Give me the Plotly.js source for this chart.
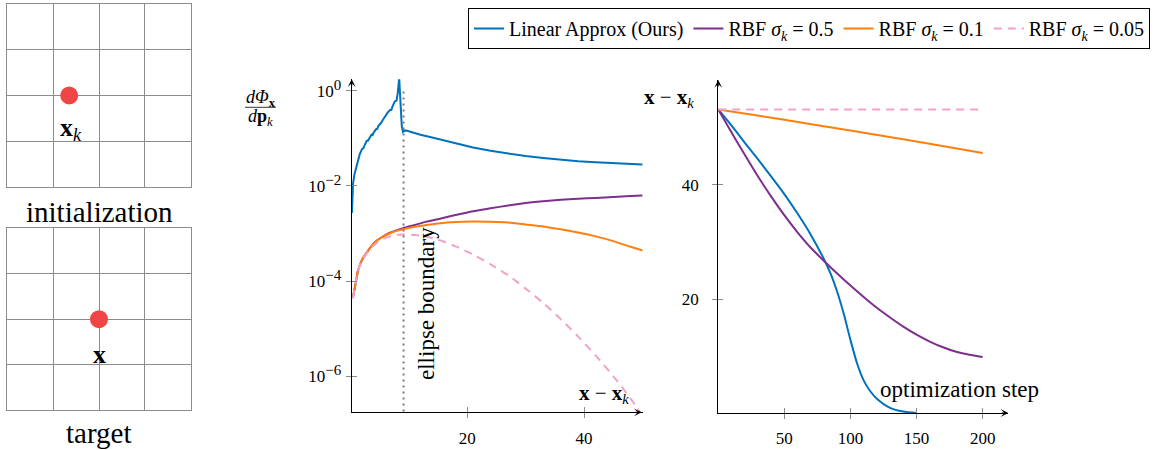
<!DOCTYPE html>
<html><head><meta charset="utf-8">
<script src="https://cdn.plot.ly/plotly-3.0.1.min.js"></script>
<style>html,body{margin:0;padding:0;background:#fff}#chart{width:1163px;height:450px}</style>
</head><body><div id="chart"></div>
<script>
// ---------- data ----------
// middle panel: gradient magnitude vs distance x - x_k (log y)
const distBlue = [0.25, 0.45, 0.7, 1.0, 1.3, 1.6, 2.0, 2.2, 2.4, 2.8, 3.0, 3.2, 3.6, 3.8, 4.0, 4.4, 4.6, 4.8, 5.2, 5.6, 6.0, 6.4, 6.8, 7.0, 7.2, 7.6, 7.9, 8.1, 8.35, 8.55, 8.8, 9.0, 9.3, 9.7, 10.5, 12, 14, 16, 18, 21, 24, 27, 30, 33, 36, 39, 42, 45, 48, 50];
const gradLinear = [2.69e-3, 1.12e-2, 1.78e-2, 2.51e-2, 3.55e-2, 4.68e-2, 6.03e-2, 6.17e-2, 7.08e-2, 8.91e-2, 8.91e-2, 0.100, 0.120, 0.118, 0.135, 0.158, 0.160, 0.186, 0.209, 0.251, 0.302, 0.355, 0.398, 0.398, 0.468, 0.603, 0.631, 0.891, 1.86, 0.631, 0.178, 0.138, 0.148, 0.145, 0.135, 0.120, 0.105, 9.12e-2, 7.94e-2, 6.46e-2, 5.50e-2, 4.79e-2, 4.27e-2, 3.89e-2, 3.55e-2, 3.31e-2, 3.16e-2, 3.02e-2, 2.88e-2, 2.82e-2];
const distRBF = [0.4, 0.9, 1.3, 2.0, 2.8, 3.5, 4.5, 5.5, 6.5, 7.5, 9, 11, 13, 15, 18, 21, 24, 27, 30, 33, 36, 39, 42, 45, 48, 50];
const gradRBF05 = [4.37e-5, 8.91e-5, 1.66e-4, 2.82e-4, 3.98e-4, 5.25e-4, 7.08e-4, 8.51e-4, 1.00e-3, 1.12e-3, 1.29e-3, 1.51e-3, 1.78e-3, 2.00e-3, 2.45e-3, 2.95e-3, 3.39e-3, 3.89e-3, 4.37e-3, 4.79e-3, 5.13e-3, 5.37e-3, 5.62e-3, 5.89e-3, 6.17e-3, 6.31e-3];
const gradRBF01 = [4.37e-5, 8.91e-5, 1.66e-4, 2.82e-4, 3.98e-4, 5.25e-4, 7.08e-4, 8.51e-4, 9.77e-4, 1.10e-3, 1.23e-3, 1.38e-3, 1.51e-3, 1.62e-3, 1.74e-3, 1.78e-3, 1.76e-3, 1.70e-3, 1.55e-3, 1.41e-3, 1.23e-3, 1.05e-3, 8.71e-4, 6.92e-4, 5.25e-4, 4.37e-4];
const distRBF005 = [0.4, 0.9, 1.3, 2.0, 2.8, 3.5, 4.5, 5.5, 6.5, 7.5, 9, 11, 13, 15, 18, 21, 24, 27, 30, 33, 36, 39, 42, 45, 48, 49.6];
const gradRBF005 = [4.37e-5, 8.91e-5, 1.66e-4, 2.75e-4, 3.80e-4, 4.90e-4, 6.31e-4, 7.59e-4, 8.51e-4, 9.12e-4, 9.55e-4, 9.33e-4, 8.51e-4, 7.41e-4, 5.37e-4, 3.63e-4, 2.24e-4, 1.32e-4, 6.92e-5, 3.47e-5, 1.58e-5, 6.76e-6, 2.69e-6, 1.00e-6, 3.31e-7, 1.74e-7];
const ellipseBoundary = 9.1;

// right panel: distance x - x_k vs optimization step
const stepsLinear = [0, 10, 20, 30, 40, 50, 60, 70, 80, 85, 90, 95, 100, 105, 110, 115, 120, 130, 140, 150];
const errLinear = [53.2, 50.4, 47.4, 44.5, 41.5, 38.4, 35.0, 31.3, 27.0, 24.5, 21.3, 17.4, 12.9, 8.8, 5.8, 3.9, 2.6, 1.0, 0.35, 0.1];
const stepsRBF05 = [0, 10, 20, 30, 40, 50, 60, 70, 80, 90, 100, 110, 120, 130, 140, 150, 160, 170, 180, 190, 200];
const errRBF05 = [53.2, 49.2, 45.3, 41.5, 38.0, 34.7, 31.7, 29.0, 26.7, 24.5, 22.4, 20.4, 18.5, 16.8, 15.2, 13.8, 12.6, 11.6, 10.8, 10.3, 9.9];
const stepsRBF01 = [0, 50, 100, 150, 200];
const errRBF01 = [53.2, 51.4, 49.5, 47.6, 45.6];
const stepsRBF005 = [0, 50, 100, 150, 200];
const errRBF005 = [53.2, 53.2, 53.2, 53.2, 53.2];

// left panel: point positions on 4x4 grids
const initX = [1.35], initY = [2];
const targetX = [2], targetY = [2];

// names and ticks
const seriesNames = ['Linear Approx (Ours)', 'RBF <i>σ</i><sub><i>k</i></sub> = 0.5', 'RBF <i>σ</i><sub><i>k</i></sub> = 0.1', 'RBF <i>σ</i><sub><i>k</i></sub> = 0.05'];
const logTickVals = [1e-6, 1e-4, 1e-2, 1];
const supSpan = s => '10<sup><span style="font-size:15px">' + s + '</span></sup>';
const logTickText = [supSpan('−6'), supSpan('−4'), supSpan('−2'), supSpan('0')];
const distTickVals = [20, 40];
const stepTickVals = [50, 100, 150, 200];
const errTickVals = [20, 40];

// ---------- styling ----------
const FONT = 'Liberation Serif';
const TICKGRAY = '#8c8c8c';
const colors = ['#0072bd', '#7e2f8e', '#ff7f0e', '#f2a2c8'];
const W = 1163, H = 450;
const px = v => v / W, py = v => 1 - v / H;

const dom = {
  midX: [px(351.7), px(643)], midY: [py(412.3), py(79.3)],
  rightX: [px(718.2), px(1008.3)], rightY: [py(413), py(80)],
  gridX: [px(7.3), px(190.7)], gridTopY: [py(186.7), py(4.3)], gridBotY: [py(410), py(228.3)]
};
const midXRange = [0.22, 50.1], midYRange = [-6.764, 0.246];
const rightXRange = [0, 219.4], rightYRange = [0.1, 58.35];

const traces = [
  {x: distBlue, y: gradLinear, xaxis: 'x', yaxis: 'y', name: seriesNames[0], mode: 'lines', line: {color: colors[0], width: 2}},
  {x: distRBF, y: gradRBF05, xaxis: 'x', yaxis: 'y', name: seriesNames[1], mode: 'lines', line: {color: colors[1], width: 2, shape: 'spline', smoothing: 0.6}},
  {x: distRBF, y: gradRBF01, xaxis: 'x', yaxis: 'y', name: seriesNames[2], mode: 'lines', line: {color: colors[2], width: 2, shape: 'spline', smoothing: 0.6}},
  {x: distRBF005, y: gradRBF005, xaxis: 'x', yaxis: 'y', name: seriesNames[3], mode: 'lines', line: {color: colors[3], width: 2, dash: '8px,6px', shape: 'spline', smoothing: 0.6}},
  {x: stepsLinear, y: errLinear, xaxis: 'x2', yaxis: 'y2', showlegend: false, mode: 'lines', line: {color: colors[0], width: 2, shape: 'spline', smoothing: 0.7}},
  {x: stepsRBF05, y: errRBF05, xaxis: 'x2', yaxis: 'y2', showlegend: false, mode: 'lines', line: {color: colors[1], width: 2, shape: 'spline', smoothing: 0.6}},
  {x: stepsRBF01, y: errRBF01, xaxis: 'x2', yaxis: 'y2', showlegend: false, mode: 'lines', line: {color: colors[2], width: 2, shape: 'spline', smoothing: 0.6}},
  {x: stepsRBF005, y: errRBF005, xaxis: 'x2', yaxis: 'y2', showlegend: false, mode: 'lines', line: {color: colors[3], width: 2, dash: '8px,6px'}},
  {x: initX, y: initY, xaxis: 'x3', yaxis: 'y3', showlegend: false, mode: 'markers', marker: {size: 18, color: '#f04545'}},
  {x: targetX, y: targetY, xaxis: 'x4', yaxis: 'y4', showlegend: false, mode: 'markers', marker: {size: 18, color: '#f04545'}},
  // empty traces that only anchor the overlay axes carrying the inner half of the ticks
  {x: [], y: [], xaxis: 'x5', yaxis: 'y', showlegend: false, mode: 'lines'},
  {x: [], y: [], xaxis: 'x', yaxis: 'y5', showlegend: false, mode: 'lines'},
  {x: [], y: [], xaxis: 'x6', yaxis: 'y2', showlegend: false, mode: 'lines'},
  {x: [], y: [], xaxis: 'x2', yaxis: 'y6', showlegend: false, mode: 'lines'}
];

const axBase = {showgrid: false, zeroline: false, showline: true, linecolor: '#000', linewidth: 1,
  ticks: 'outside', ticklen: 5, tickwidth: 1, tickcolor: TICKGRAY, tickmode: 'array',
  tickfont: {family: FONT, size: 17, color: '#000'}, fixedrange: true};
const innerTicks = {showgrid: false, zeroline: false, showline: false, showticklabels: false,
  ticks: 'inside', ticklen: 5, tickwidth: 1, tickcolor: TICKGRAY, tickmode: 'array', fixedrange: true};
const gridAx = {showgrid: true, gridcolor: '#8c8c8c', gridwidth: 1, zeroline: false, showline: true, mirror: true,
  linecolor: '#8c8c8c', linewidth: 1, showticklabels: false, ticks: '', dtick: 1, tick0: 0, range: [0, 4], fixedrange: true};

const arrow = (x, y, ax, ay) => ({xref: 'paper', yref: 'paper', x: x, y: y, ax: ax, ay: ay, text: '',
  showarrow: true, arrowhead: 3, arrowsize: 1.3, arrowwidth: 1, arrowcolor: '#000', standoff: 0});
const txt = (text, x, y, size, extra) => Object.assign({xref: 'paper', yref: 'paper', x: x, y: y, text: text,
  showarrow: false, font: {family: FONT, size: size, color: '#000'}, xanchor: 'center', yanchor: 'middle'}, extra || {});

const xmk = '<b>x</b> − <b>x</b><sub><i>k</i></sub>';

const layout = {
  width: W, height: H, margin: {l: 0, r: 0, t: 0, b: 0},
  paper_bgcolor: '#fff', plot_bgcolor: 'rgba(0,0,0,0)',
  font: {family: FONT, color: '#000'},
  hovermode: false,
  xaxis: Object.assign({}, axBase, {domain: dom.midX, anchor: 'y', range: midXRange, tickvals: distTickVals, ticklabelstandoff: 5}),
  yaxis: Object.assign({}, axBase, {domain: dom.midY, anchor: 'x', type: 'log', range: midYRange, tickvals: logTickVals, ticktext: logTickText, ticklabelstandoff: 1}),
  xaxis2: Object.assign({}, axBase, {domain: dom.rightX, anchor: 'y2', range: rightXRange, tickvals: stepTickVals, ticklabelstandoff: 5}),
  yaxis2: Object.assign({}, axBase, {domain: dom.rightY, anchor: 'x2', range: rightYRange, tickvals: errTickVals, ticklabelstandoff: 10}),
  xaxis3: Object.assign({}, gridAx, {domain: dom.gridX, anchor: 'y3'}),
  yaxis3: Object.assign({}, gridAx, {domain: dom.gridTopY, anchor: 'x3'}),
  xaxis4: Object.assign({}, gridAx, {domain: dom.gridX, anchor: 'y4'}),
  yaxis4: Object.assign({}, gridAx, {domain: dom.gridBotY, anchor: 'x4'}),
  xaxis5: Object.assign({}, innerTicks, {overlaying: 'x', anchor: 'y', range: midXRange, tickvals: distTickVals}),
  yaxis5: Object.assign({}, innerTicks, {overlaying: 'y', anchor: 'x', type: 'log', range: midYRange, tickvals: logTickVals}),
  xaxis6: Object.assign({}, innerTicks, {overlaying: 'x2', anchor: 'y2', range: rightXRange, tickvals: stepTickVals}),
  yaxis6: Object.assign({}, innerTicks, {overlaying: 'y2', anchor: 'x2', range: rightYRange, tickvals: errTickVals}),
  showlegend: true,
  legend: {orientation: 'h', x: px(468), y: py(8), xanchor: 'left', yanchor: 'top', bgcolor: '#fff',
    bordercolor: '#000', borderwidth: 1, font: {family: FONT, size: 20, color: '#000'}, itemclick: false, itemdoubleclick: false},
  shapes: [
    {type: 'line', xref: 'x', yref: 'y', x0: ellipseBoundary, x1: ellipseBoundary, y0: 1e-7, y1: 1,
      line: {color: '#7a7a7a', width: 2, dash: '2px,4px'}},
    {type: 'line', xref: 'paper', yref: 'paper', x0: px(245), x1: px(276), y0: py(107.3), y1: py(107.3),
      line: {color: '#000', width: 0.8}}
  ],
  annotations: [
    arrow(px(641.7), py(412.3), -8, 0),
    arrow(px(351.7), py(79.3), 0, 8),
    arrow(px(1008.3), py(413), -8, 0),
    arrow(px(718.2), py(80), 0, 8),
    txt('initialization', px(99), py(212), 29),
    txt('target', px(99), py(433), 29),
    Object.assign(txt('<b>x</b><sub><i>k</i></sub>', 1.4, 1.27, 26), {xref: 'x3', yref: 'y3'}),
    Object.assign(txt('<b>x</b>', 2.0, 1.22, 26), {xref: 'x4', yref: 'y4'}),
    txt('ellipse boundary', px(426), py(304), 23, {textangle: -90}),
    txt(xmk, px(631), py(394), 21, {xanchor: 'right'}),
    txt(xmk, px(696), py(98), 21, {xanchor: 'right'}),
    txt('optimization step', px(878), py(389), 23, {xanchor: 'left'}),
    txt('<i>d</i><i>Φ</i><sub><b>x</b></sub>', px(260.5), py(99), 18),
    txt('<i>d</i><b>p</b><sub><i>k</i></sub>', px(260.5), py(117), 18)
  ]
};

Plotly.newPlot('chart', traces, layout, {staticPlot: true, displayModeBar: false});
</script></body></html>
